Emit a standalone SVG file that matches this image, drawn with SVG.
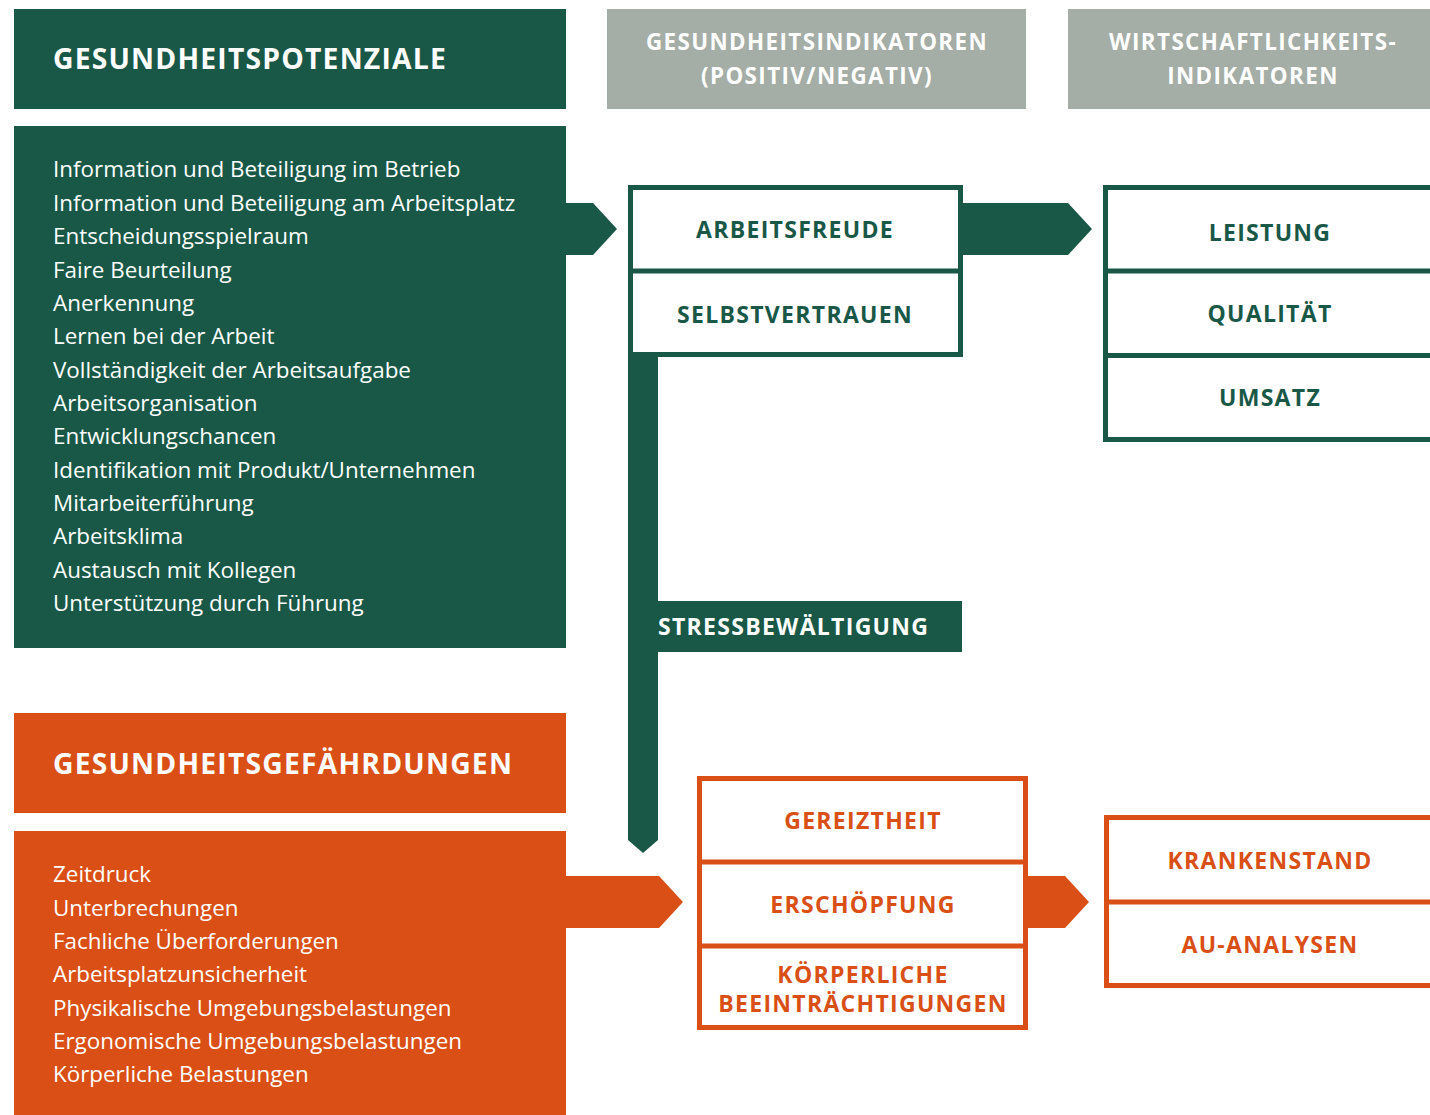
<svg xmlns="http://www.w3.org/2000/svg" width="1430" height="1115" viewBox="0 0 1430 1115">
<style>
.g{fill:#195847}
.o{fill:#d94f15}
.gr{fill:#a4ada6}
.hd{font-family:"Open Sans","Noto Sans",sans-serif;font-weight:700;font-size:28.3px;fill:#fff;letter-spacing:1.2px}
.gh{font-family:"Open Sans","Noto Sans",sans-serif;font-weight:700;font-size:22.4px;fill:#fff;letter-spacing:1.4px;text-anchor:middle}
.li{font-family:"Open Sans","Noto Sans",sans-serif;font-size:22.4px;fill:#fff}
.lb{font-family:"Open Sans","Noto Sans",sans-serif;font-weight:700;font-size:23px;letter-spacing:1.3px;text-anchor:middle}
.lg{fill:#195847}
.lo{fill:#d94f15}
.bg{fill:#fff;stroke:#195847;stroke-width:5}
.bo{fill:#fff;stroke:#d94f15;stroke-width:5}
.dg{stroke:#195847;stroke-width:5}
.do{stroke:#d94f15;stroke-width:5}
</style>
<rect width="1430" height="1115" fill="#fff"/>
<g id="connectors">
<polygon class="g" points="566,203 593,203 617,229 593,255 566,255"/>
<polygon class="g" points="961,203 1068,203 1092,229 1068,255 961,255"/>
<polygon class="g" points="628,355 658,355 658,840 643,853 628,840"/>
<polygon class="o" points="566,876 659,876 683,902 659,928 566,928"/>
<polygon class="o" points="1026,876 1065,876 1089,902 1065,928 1026,928"/>
</g>
<g id="header-potenziale">
<rect class="g" x="14" y="9" width="552" height="100"/>
<text class="hd" x="53" y="69">GESUNDHEITSPOTENZIALE</text>
</g>
<g id="header-gesundheitsindikatoren">
<rect class="gr" x="607" y="9" width="419" height="100"/>
<text class="gh" x="817" y="50">GESUNDHEITSINDIKATOREN</text>
<text class="gh" x="817" y="84">(POSITIV/NEGATIV)</text>
</g>
<g id="header-wirtschaftlichkeit">
<rect class="gr" x="1068" y="9" width="362" height="100"/>
<text class="gh" x="1253" y="50">WIRTSCHAFTLICHKEITS-</text>
<text class="gh" x="1253" y="84">INDIKATOREN</text>
</g>
<g id="potenziale-list">
<rect class="g" x="14" y="126" width="552" height="522"/>
<text class="li" x="53" y="177">Information und Beteiligung im Betrieb</text>
<text class="li" x="53" y="211">Information und Beteiligung am Arbeitsplatz</text>
<text class="li" x="53" y="244">Entscheidungsspielraum</text>
<text class="li" x="53" y="278">Faire Beurteilung</text>
<text class="li" x="53" y="311">Anerkennung</text>
<text class="li" x="53" y="344">Lernen bei der Arbeit</text>
<text class="li" x="53" y="378">Vollständigkeit der Arbeitsaufgabe</text>
<text class="li" x="53" y="411">Arbeitsorganisation</text>
<text class="li" x="53" y="444">Entwicklungschancen</text>
<text class="li" x="53" y="478">Identifikation mit Produkt/Unternehmen</text>
<text class="li" x="53" y="511">Mitarbeiterführung</text>
<text class="li" x="53" y="544">Arbeitsklima</text>
<text class="li" x="53" y="578">Austausch mit Kollegen</text>
<text class="li" x="53" y="611">Unterstützung durch Führung</text>
</g>
<g id="positive-indicators">
<rect class="bg" x="630.5" y="187.5" width="330" height="167"/>
<line class="dg" x1="630" y1="271" x2="961" y2="271"/>
<text class="lb lg" x="795" y="238">ARBEITSFREUDE</text>
<text class="lb lg" x="795" y="323">SELBSTVERTRAUEN</text>
</g>
<g id="economic-indicators">
<rect class="bg" x="1105.5" y="187.5" width="400" height="252"/>
<line class="dg" x1="1105" y1="271" x2="1430" y2="271"/>
<line class="dg" x1="1105" y1="355.5" x2="1430" y2="355.5"/>
<text class="lb lg" x="1270" y="241">LEISTUNG</text>
<text class="lb lg" x="1270" y="322">QUALITÄT</text>
<text class="lb lg" x="1270" y="406">UMSATZ</text>
</g>
<g id="stressbewaeltigung">
<rect class="g" x="658" y="601" width="304" height="51"/>
<text class="lb" x="658" y="635" style="fill:#fff;text-anchor:start">STRESSBEWÄLTIGUNG</text>
</g>
<g id="header-gefaehrdungen">
<rect class="o" x="14" y="713" width="552" height="100"/>
<text class="hd" x="53" y="774">GESUNDHEITSGEFÄHRDUNGEN</text>
</g>
<g id="gefaehrdungen-list">
<rect class="o" x="14" y="831" width="552" height="284"/>
<text class="li" x="53" y="882">Zeitdruck</text>
<text class="li" x="53" y="916">Unterbrechungen</text>
<text class="li" x="53" y="949">Fachliche Überforderungen</text>
<text class="li" x="53" y="982">Arbeitsplatzunsicherheit</text>
<text class="li" x="53" y="1016">Physikalische Umgebungsbelastungen</text>
<text class="li" x="53" y="1049">Ergonomische Umgebungsbelastungen</text>
<text class="li" x="53" y="1082">Körperliche Belastungen</text>
</g>
<g id="negative-indicators">
<rect class="bo" x="699.5" y="778.5" width="326" height="249"/>
<line class="do" x1="699" y1="862" x2="1026" y2="862"/>
<line class="do" x1="699" y1="946" x2="1026" y2="946"/>
<text class="lb lo" x="863" y="829">GEREIZTHEIT</text>
<text class="lb lo" x="863" y="913">ERSCHÖPFUNG</text>
<text class="lb lo" x="863" y="983">KÖRPERLICHE</text>
<text class="lb lo" x="863" y="1012">BEEINTRÄCHTIGUNGEN</text>
</g>
<g id="absence-indicators">
<rect class="bo" x="1106.5" y="817.5" width="400" height="168"/>
<line class="do" x1="1106" y1="902" x2="1430" y2="902"/>
<text class="lb lo" x="1270" y="869">KRANKENSTAND</text>
<text class="lb lo" x="1270" y="953">AU-ANALYSEN</text>
</g>
</svg>
